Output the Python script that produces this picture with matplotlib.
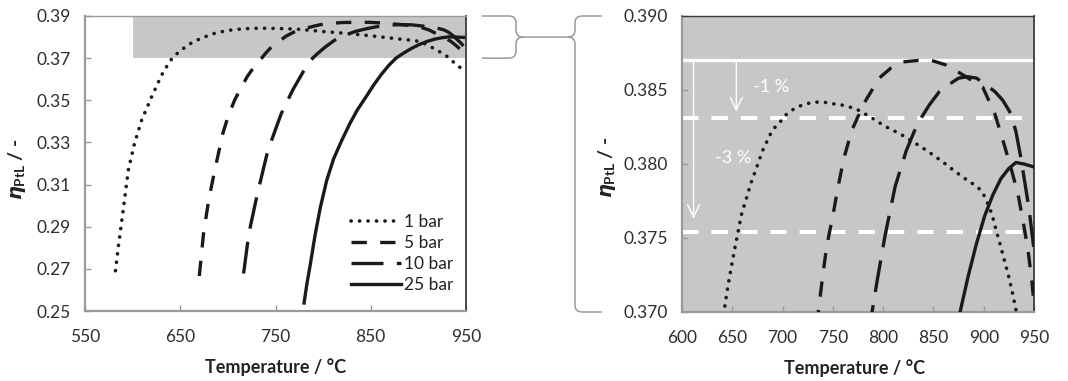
import matplotlib
matplotlib.use("Agg")
import matplotlib.pyplot as plt
from matplotlib.path import Path
from matplotlib.patches import PathPatch, Rectangle, FancyArrowPatch
from matplotlib.transforms import IdentityTransform

# ---------------- data ----------------
t_1bar = [582, 585, 591, 595.5, 602, 609.5, 620, 630.5, 639, 643, 646.3, 649.5, 652.8, 656,
          659.2, 664.1, 668.9, 674.4, 680.3, 687.7, 692.2, 698.1, 702.9, 709.4, 716.8, 724.9,
          733, 741, 749.8, 756.5, 772.7, 787.3, 801.8, 816.4, 830, 844, 857.9, 870.9, 884.5,
          891.6, 897.7, 902, 908, 912.5, 917, 921.3, 925.6, 929.5, 932.5, 940, 950]
eta_1bar = [0.2691, 0.2805, 0.3011, 0.3169, 0.3296, 0.3406, 0.3517, 0.3620, 0.3685, 0.3706,
            0.3720, 0.3732, 0.3744, 0.3755, 0.3766, 0.3777, 0.37878, 0.3798, 0.38093, 0.38199,
            0.38246, 0.38289, 0.3833, 0.38364, 0.38391, 0.38409, 0.38418, 0.38418, 0.38407,
            0.38403, 0.38374, 0.38318, 0.38255, 0.38205, 0.38149, 0.38088, 0.38021, 0.37953,
            0.37886, 0.37856, 0.3782, 0.37766, 0.37664, 0.3755, 0.3744, 0.3733, 0.3722,
            0.3710, 0.3700, 0.3668, 0.3636]

t_5bar = [670, 674.5, 680, 685.5, 694.5, 700, 707, 714, 720, 728, 735.5, 740, 744, 750, 755,
          761, 769, 781, 796, 808, 820, 835, 848, 862, 875, 899, 911, 920, 928, 934, 940,
          944, 948, 950]
eta_5bar = [0.2666, 0.2870, 0.3030, 0.3152, 0.3340, 0.3420, 0.3500, 0.3560, 0.3610, 0.3662,
            0.3700, 0.3725, 0.3745, 0.3765, 0.3784, 0.3804, 0.3823, 0.3841, 0.3858, 0.3865,
            0.3869, 0.3870, 0.3870, 0.3867, 0.3862, 0.3852, 0.3834, 0.3814, 0.3795, 0.3780,
            0.3758, 0.3742, 0.3720, 0.3705]

t_10bar = [716.5, 722, 731, 742, 756, 768, 779, 789, 794, 802, 812, 823, 834, 846, 856, 866,
           875, 884, 893, 903, 911, 919, 927, 932, 937, 941, 945, 950]
eta_10bar = [0.2678, 0.2867, 0.3057, 0.3262, 0.3436, 0.3548, 0.3635, 0.3700, 0.3721, 0.3752,
             0.3785, 0.3809, 0.3827, 0.3840, 0.3849, 0.3854, 0.3858, 0.3859, 0.3858, 0.3853,
             0.3849, 0.3843, 0.3834, 0.3822, 0.3804, 0.3787, 0.3770, 0.3742]

t_25bar = [780, 783, 786.5, 791.5, 797, 803.7, 811, 819.5, 828, 836, 845, 853, 861, 869,
           876.5, 884.5, 892.7, 901, 909, 917, 925, 932, 940, 950]
eta_25bar = [0.2538, 0.2630, 0.2720, 0.2859, 0.2990, 0.3119, 0.3222, 0.3309, 0.3389, 0.3455,
             0.3516, 0.3572, 0.3622, 0.3666, 0.3700, 0.3724, 0.3746, 0.3765, 0.3779, 0.3790,
             0.3797, 0.38010, 0.3800, 0.3798]

labels = ["1 bar", "5 bar", "10 bar", "25 bar"]

zoom_t = (600, 950)
zoom_eta = (0.37, 0.39)
eta_max = 0.3870
reductions = [1, 3]          # percent
arrow_t = [654, 611.5]
label_pos = [(689, 0.3852), (651, 0.3804)]

left_xticks = [550, 650, 750, 850, 950]
left_yticks = [0.25, 0.27, 0.29, 0.31, 0.33, 0.35, 0.37, 0.39]
right_xticks = [600, 650, 700, 750, 800, 850, 900, 950]
right_yticks = [0.370, 0.375, 0.380, 0.385, 0.390]

# ---------------- style ----------------
plt.rcParams['font.family'] = ['Lato', 'DejaVu Sans']
plt.rcParams['mathtext.fontset'] = 'custom'
plt.rcParams['mathtext.it'] = 'DejaVu Sans:italic:bold'
plt.rcParams['mathtext.rm'] = 'Lato:bold'
plt.rcParams['mathtext.bf'] = 'Lato:bold'

GRAY_BG = '#c6c7c9'
TICKC = '#2e2e2e'
SPINE_LIGHT = '#9a9a9a'
SPINE_DARK = '#3a3a3a'
LW = 2.4
TICK_FS = 12.5
styles = [
    dict(linestyle=(0, (0.05, 2.3)), dash_capstyle='round', lw=2.6),
    dict(linestyle=(0, (4.6, 4.0)), dash_capstyle='butt', lw=LW),
    dict(linestyle=(0, (9.6, 4.0)), dash_capstyle='butt', lw=LW),
    dict(linestyle='-', lw=LW),
]
series = [(t_1bar, eta_1bar), (t_5bar, eta_5bar), (t_10bar, eta_10bar), (t_25bar, eta_25bar)]

fig = plt.figure(figsize=(10.68, 3.81), dpi=100)
fig.patch.set_facecolor('white')
ax1 = fig.add_axes([85/1068, 1-311/381, 381/1068, 295/381])
ax2 = fig.add_axes([682/1068, 1-312/381, 352/1068, 296/381])


def style_axes(ax, right_panel=False):
    for s in ['left', 'bottom']:
        ax.spines[s].set_color(SPINE_LIGHT)
        ax.spines[s].set_linewidth(1.6)
    ax.spines['top'].set_color(SPINE_DARK if right_panel else SPINE_LIGHT)
    ax.spines['top'].set_linewidth(1.0)
    ax.spines['right'].set_color(SPINE_DARK)
    ax.spines['right'].set_linewidth(1.3)
    ax.tick_params(axis='both', direction='in', length=4, width=1, color=SPINE_LIGHT,
                   labelcolor=TICKC, labelsize=TICK_FS)
    ax.tick_params(axis='x', pad=13)
    ax.tick_params(axis='y', pad=10)


# ---------- left panel ----------
ax1.add_patch(Rectangle((zoom_t[0], zoom_eta[0]), zoom_t[1]-zoom_t[0], zoom_eta[1]-zoom_eta[0],
                        facecolor=GRAY_BG, edgecolor='none', zorder=0))
for (t, e), lab, st in zip(series, labels, styles):
    ax1.plot(t, e, color='#1a1a1a', label=lab, **st)
ax1.set_xlim(550, 950)
ax1.set_ylim(0.25, 0.39)
ax1.set_xticks(left_xticks)
ax1.set_yticks(left_yticks)
ax1.set_yticklabels([f"{v:.2f}" for v in left_yticks])
style_axes(ax1)
ax1.set_xlabel('Temperature / °C', fontsize=13, fontweight='bold', color='#222222')
ax1.xaxis.label.set_va('center')
ax1.xaxis.set_label_coords(0.5, -0.19)
ax1.set_ylabel(r'$\eta_{\mathrm{PtL}}$ / -', fontsize=14, fontweight='bold', color='#222222')
ax1.yaxis.label.set_va('center')
ax1.yaxis.set_label_coords(-0.178, 0.48)
leg = ax1.legend(loc='lower right', bbox_to_anchor=(0.968, 0.06), frameon=False,
                 fontsize=12.5, handlelength=2.9, handletextpad=0.2, labelspacing=0.3,
                 borderpad=0, borderaxespad=0)
for txt in leg.get_texts():
    txt.set_color('#222222')

# ---------- right panel ----------
ax2.set_facecolor(GRAY_BG)
ax2.axhline(eta_max, color='white', lw=2.4, zorder=1)
for r in reductions:
    ax2.axhline(eta_max*(1-r/100), color='white', lw=2.9, linestyle=(0, (4.1, 3.2)),
                dash_capstyle='butt', zorder=1)
for (t, e), st in zip(series, styles):
    ax2.plot(t, e, color='#1a1a1a', zorder=3, **st)
tip_offsets = [0.0004, 0.0009]
for xa, r, off in zip(arrow_t, reductions, tip_offsets):
    arr = FancyArrowPatch((xa, eta_max), (xa, eta_max*(1-r/100) + off),
                          arrowstyle='->,head_length=0.9,head_width=0.42', mutation_scale=10,
                          color='white', lw=1.0, shrinkA=0, shrinkB=0, zorder=2)
    ax2.add_patch(arr)
for (xp, yp), r in zip(label_pos, reductions):
    ax2.text(xp, yp, f'-{r} %', color='white', fontsize=13, ha='center', va='center', zorder=2)
ax2.set_xlim(600, 950)
ax2.set_ylim(0.370, 0.390)
ax2.set_xticks(right_xticks)
ax2.set_yticks(right_yticks)
ax2.set_yticklabels([f"{v:.3f}" for v in right_yticks])
style_axes(ax2, right_panel=True)
ax2.set_xlabel('Temperature / °C', fontsize=13, fontweight='bold', color='#222222')
ax2.xaxis.label.set_va('center')
ax2.xaxis.set_label_coords(0.49, -0.19)
ax2.set_ylabel(r'$\eta_{\mathrm{PtL}}$ / -', fontsize=14, fontweight='bold', color='#222222')
ax2.yaxis.label.set_va('center')
ax2.yaxis.set_label_coords(-0.213, 0.49)

# ---------- connecting braces ----------
yT = ax1.transData.transform((950, zoom_eta[1]))[1]
yB = ax1.transData.transform((950, zoom_eta[0]))[1]
yM = 0.5*(yT + yB)
x_right1 = ax1.transAxes.transform((1, 0))[0]
x_left2 = ax2.transAxes.transform((0, 0))[0]
yT2 = ax2.transAxes.transform((0, 1))[1]
yB2 = ax2.transAxes.transform((0, 0))[1]
xa = x_right1 + 16
xb = x_right1 + 50
xc = x_left2 - 107
xd = x_left2 - 80
rr = 7
M, L, C = Path.MOVETO, Path.LINETO, Path.CURVE3
verts = [
    (xa, yT), (xb - rr, yT), (xb, yT), (xb, yT - rr), (xb, yM + rr), (xb, yM), (xb + rr, yM),
    (xc - rr, yM), (xc, yM), (xc, yM + rr), (xc, yT2 - rr), (xc, yT2), (xc + rr, yT2), (xd, yT2),
    (xa, yB), (xb - rr, yB), (xb, yB), (xb, yB + rr), (xb, yM - rr), (xb, yM), (xb + rr, yM),
    (xc - rr, yM), (xc, yM), (xc, yM - rr), (xc, yB2 + rr), (xc, yB2), (xc + rr, yB2), (xd, yB2),
]
codes = [M, L, C, C, L, C, C, L, C, C, L, C, C, L,
         M, L, C, C, L, C, C, M, C, C, L, C, C, L]
brace = PathPatch(Path(verts, codes), facecolor='none', edgecolor='#9a9a9a', lw=1.1,
                  transform=IdentityTransform())
fig.add_artist(brace)

fig.savefig('out.png', dpi=100, facecolor='white')
